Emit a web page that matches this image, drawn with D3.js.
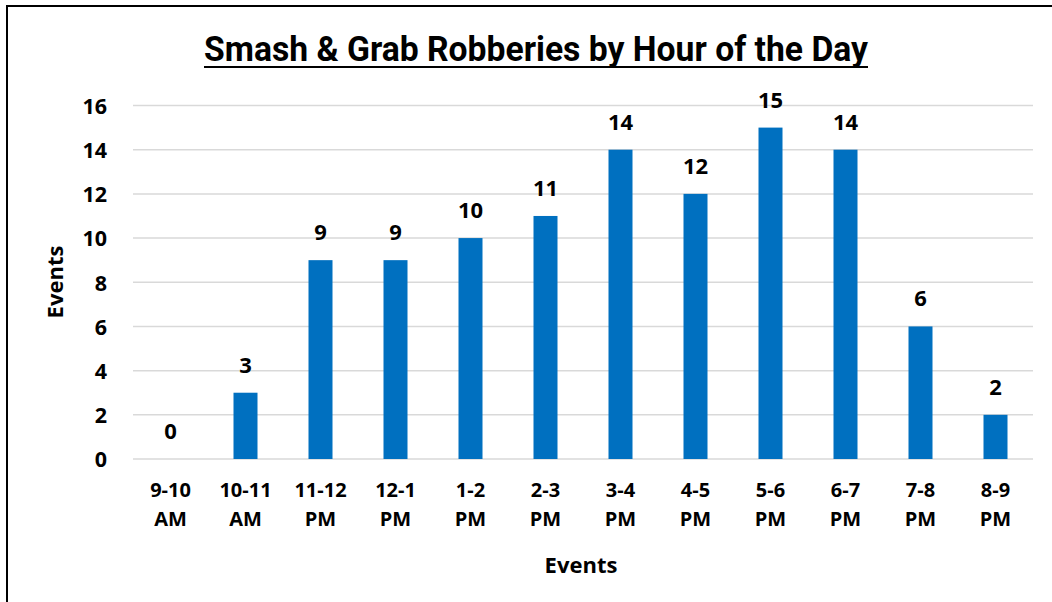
<!DOCTYPE html>
<html>
<head>
<meta charset="utf-8">
<script src="https://cdn.jsdelivr.net/npm/d3@7"></script>
<style>
  body { margin: 0; background: #fff; }
  text { font-family: "Open Sans", "Noto Sans", sans-serif; font-weight: 700; fill: #000; }
</style>
</head>
<body>
<div id="chart"></div>
<script>
// Chart data
const hours = ["9-10 AM", "10-11 AM", "11-12 PM", "12-1 PM", "1-2 PM", "2-3 PM",
               "3-4 PM", "4-5 PM", "5-6 PM", "6-7 PM", "7-8 PM", "8-9 PM"];
const events = [0, 3, 9, 9, 10, 11, 14, 12, 15, 14, 6, 2];
const yTicks = [0, 2, 4, 6, 8, 10, 12, 14, 16];

const width = 1052;
const height = 602;
const margin = { top: 105.5, right: 19, bottom: 143, left: 133 };

const svg = d3.select("#chart")
    .append("svg")
    .attr("width", width)
    .attr("height", height);

// Outer frame (cut off on the right and bottom like the original)
svg.append("rect")
    .attr("x", 7)
    .attr("y", 6)
    .attr("width", width + 20)
    .attr("height", height + 20)
    .attr("fill", "none")
    .attr("stroke", "#000")
    .attr("stroke-width", 2);

// Scales
const x = d3.scaleBand()
    .domain(hours)
    .range([margin.left, width - margin.right])
    .paddingInner(0.68)
    .paddingOuter(0.34);

const y = d3.scaleLinear()
    .domain([0, 16])
    .range([height - margin.bottom, margin.top]);

// Gridlines
svg.append("g")
    .selectAll("line")
    .data(yTicks)
    .enter()
    .append("line")
    .attr("x1", margin.left)
    .attr("x2", width - margin.right)
    .attr("y1", d => y(d))
    .attr("y2", d => y(d))
    .attr("stroke", "#d9d9d9")
    .attr("stroke-width", 1.5);

// Y axis labels
const yAxis = svg.append("g")
    .attr("transform", `translate(${margin.left - 26},0)`)
    .call(d3.axisLeft(y).tickValues(yTicks).tickSize(0).tickPadding(0));
yAxis.select(".domain").remove();
yAxis.selectAll("text")
    .style("font-family", "'Open Sans', sans-serif")
    .style("font-weight", 700)
    .style("font-size", "21.5px")
    .attr("dy", "0.36em");

// Bars
svg.append("g")
    .selectAll("rect")
    .data(events)
    .enter()
    .append("rect")
    .attr("x", (d, i) => x(hours[i]))
    .attr("y", d => y(d))
    .attr("width", x.bandwidth())
    .attr("height", d => y(0) - y(d))
    .attr("fill", "#0070c0");

// Value labels
svg.append("g")
    .selectAll("text")
    .data(events)
    .enter()
    .append("text")
    .attr("x", (d, i) => x(hours[i]) + x.bandwidth() / 2)
    .attr("y", d => y(d) - 20)
    .attr("text-anchor", "middle")
    .style("font-size", "22px")
    .text(d => d);

// X axis labels (two lines)
const xLabels = svg.append("g")
    .selectAll("text")
    .data(hours)
    .enter()
    .append("text")
    .attr("x", d => x(d) + x.bandwidth() / 2)
    .attr("y", 497)
    .attr("text-anchor", "middle")
    .style("font-size", "20px");
xLabels.append("tspan")
    .attr("x", d => x(d) + x.bandwidth() / 2)
    .text(d => d.split(" ")[0]);
xLabels.append("tspan")
    .attr("x", d => x(d) + x.bandwidth() / 2)
    .attr("dy", 29)
    .text(d => d.split(" ")[1]);

// Axis titles
svg.append("text")
    .attr("x", 581)
    .attr("y", 573)
    .attr("text-anchor", "middle")
    .style("font-size", "22px")
    .text("Events");

svg.append("text")
    .attr("transform", "translate(63,282) rotate(-90)")
    .attr("text-anchor", "middle")
    .style("font-size", "22px")
    .text("Events");

// Title (narrow look) with underline
const titleX = 204, titleW = 664;
svg.append("text")
    .attr("x", titleX)
    .attr("y", 61)
    .attr("textLength", titleW)
    .attr("lengthAdjust", "spacingAndGlyphs")
    .style("font-family", "Roboto, sans-serif")
    .style("font-size", "35px")
    .text("Smash & Grab Robberies by Hour of the Day");

svg.append("line")
    .attr("x1", titleX)
    .attr("x2", titleX + titleW)
    .attr("y1", 67)
    .attr("y2", 67)
    .attr("stroke", "#000")
    .attr("stroke-width", 2);
</script>
</body>
</html>
